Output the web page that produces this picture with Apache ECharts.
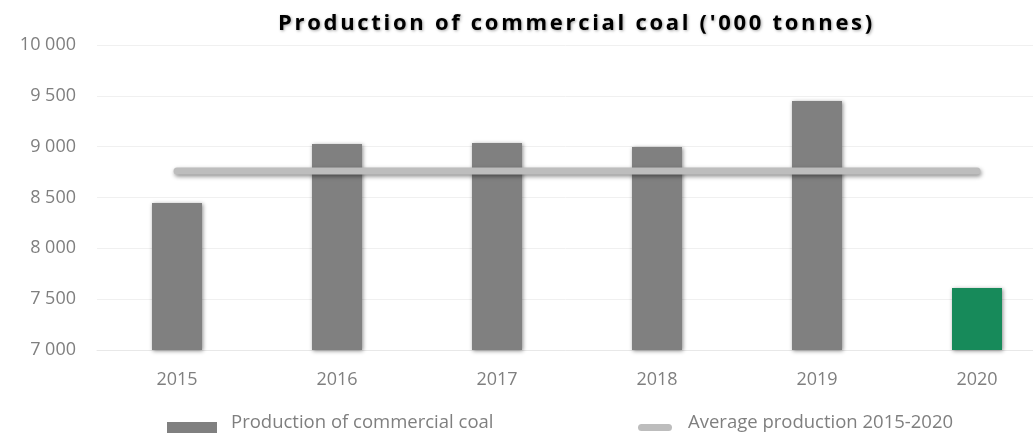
<!DOCTYPE html>
<html>
<head>
<meta charset="utf-8">
<script src="https://cdn.jsdelivr.net/npm/echarts@6/dist/echarts.min.js"></script>
<style>html,body{margin:0;padding:0;background:#fff;}#c{width:1033px;height:433px;}</style>
</head>
<body>
<div id="c"></div>
<script>
var categories = ['2015', '2016', '2017', '2018', '2019', '2020'];
var production = [8445, 9026, 9036, 8996, 9449, 7610];
var averageProduction = [8760, 8760, 8760, 8760, 8760, 8760];
var barColors = ['#808080', '#808080', '#808080', '#808080', '#808080', '#178a5a'];
var yTicks = { min: 7000, max: 10000, interval: 500 };
var titleText = "Production of commercial coal ('000 tonnes)";

var labelFont = 'Open Sans';
var gray = '#7f7f7f';
var titleSize = 22;
var titleFont = 'bold ' + titleSize + 'px "Open Sans"';
var titleWidthTarget = 597;

// letter spacing for the title only (the reference title is spaced out)
(function () {
  var ctx = document.createElement('canvas').getContext('2d');
  ctx.font = titleFont;
  var w = ctx.measureText(titleText).width;
  var spacing = Math.max(0, (titleWidthTarget - w) / titleText.length);
  var proto = CanvasRenderingContext2D.prototype;
  var orig = proto.fillText;
  proto.fillText = function (t, x, y, mw) {
    if (t === titleText && 'letterSpacing' in this) {
      var prev = this.letterSpacing;
      this.letterSpacing = spacing.toFixed(2) + 'px';
      var r = mw === undefined ? orig.call(this, t, x, y) : orig.call(this, t, x, y, mw);
      this.letterSpacing = prev;
      return r;
    }
    return mw === undefined ? orig.call(this, t, x, y) : orig.call(this, t, x, y, mw);
  };
})();

var chart = echarts.init(document.getElementById('c'), null, { renderer: 'canvas' });

function fmt(v) {
  return String(v).replace(/\B(?=(\d{3})+(?!\d))/g, ' ');
}

// legend icons: the bounding box (moveTo points) is taller than the visible shape,
// so the shape sits lower than the text, as in the reference
var barIcon = 'path://M0,0M0,30M0,14L50,14L50,28L0,28Z';
var lineIcon = 'path://M0,0M0,30M3.5,16L30.5,16A3.5,3.5,0,0,1,30.5,23L3.5,23A3.5,3.5,0,0,1,3.5,16Z';

chart.setOption({
  animation: false,
  backgroundColor: '#ffffff',
  title: {
    text: titleText,
    left: 273,
    top: 8,
    textStyle: {
      fontFamily: 'Open Sans',
      fontWeight: 'bold',
      fontSize: titleSize,
      color: '#000000',
      textShadowColor: 'rgba(0,0,0,0.35)',
      textShadowBlur: 3,
      textShadowOffsetX: 1,
      textShadowOffsetY: 1
    }
  },
  legend: [{
    data: ['Production of commercial coal'],
    left: 162,
    top: 403,
    itemWidth: 50,
    itemHeight: 30,
    icon: barIcon,
    textStyle: { fontFamily: labelFont, fontSize: 18.5, color: gray, padding: [0, 0, 0, 9] }
  }, {
    data: ['Average production 2015-2020'],
    left: 633,
    top: 403,
    itemWidth: 34,
    itemHeight: 30,
    icon: lineIcon,
    textStyle: { fontFamily: labelFont, fontSize: 18.5, color: gray, padding: [0, 0, 0, 11] }
  }],
  grid: { left: 97, top: 45, right: -24, bottom: 83, containLabel: false, outerBoundsMode: 'none' },
  xAxis: {
    type: 'category',
    data: categories,
    axisTick: { show: false },
    axisLine: { show: true, lineStyle: { color: '#e8e8e8', width: 1 } },
    axisLabel: { color: gray, fontFamily: labelFont, fontSize: 18, margin: 21 }
  },
  yAxis: {
    type: 'value',
    min: yTicks.min,
    max: yTicks.max,
    interval: yTicks.interval,
    axisLine: { show: false },
    axisTick: { show: false },
    splitLine: { lineStyle: { color: '#f0f0f0', width: 1 } },
    axisLabel: { color: gray, fontFamily: labelFont, fontSize: 18, margin: 21, formatter: fmt }
  },
  series: [{
    name: 'Production of commercial coal',
    type: 'bar',
    barWidth: 50,
    data: production.map(function (v, i) {
      return { value: v, itemStyle: { color: barColors[i] } };
    }),
    itemStyle: {
      color: '#808080',
      shadowColor: 'rgba(0,0,0,0.45)',
      shadowBlur: 4,
      shadowOffsetX: 1,
      shadowOffsetY: 1
    },
    z: 2
  }, {
    name: 'Average production 2015-2020',
    type: 'line',
    data: averageProduction,
    symbol: 'none',
    lineStyle: {
      color: '#bdbdbd',
      width: 7,
      cap: 'round',
      shadowColor: 'rgba(0,0,0,0.45)',
      shadowBlur: 4,
      shadowOffsetX: 1,
      shadowOffsetY: 2
    },
    itemStyle: { color: '#bdbdbd' },
    z: 3
  }]
});
</script>
</body>
</html>
